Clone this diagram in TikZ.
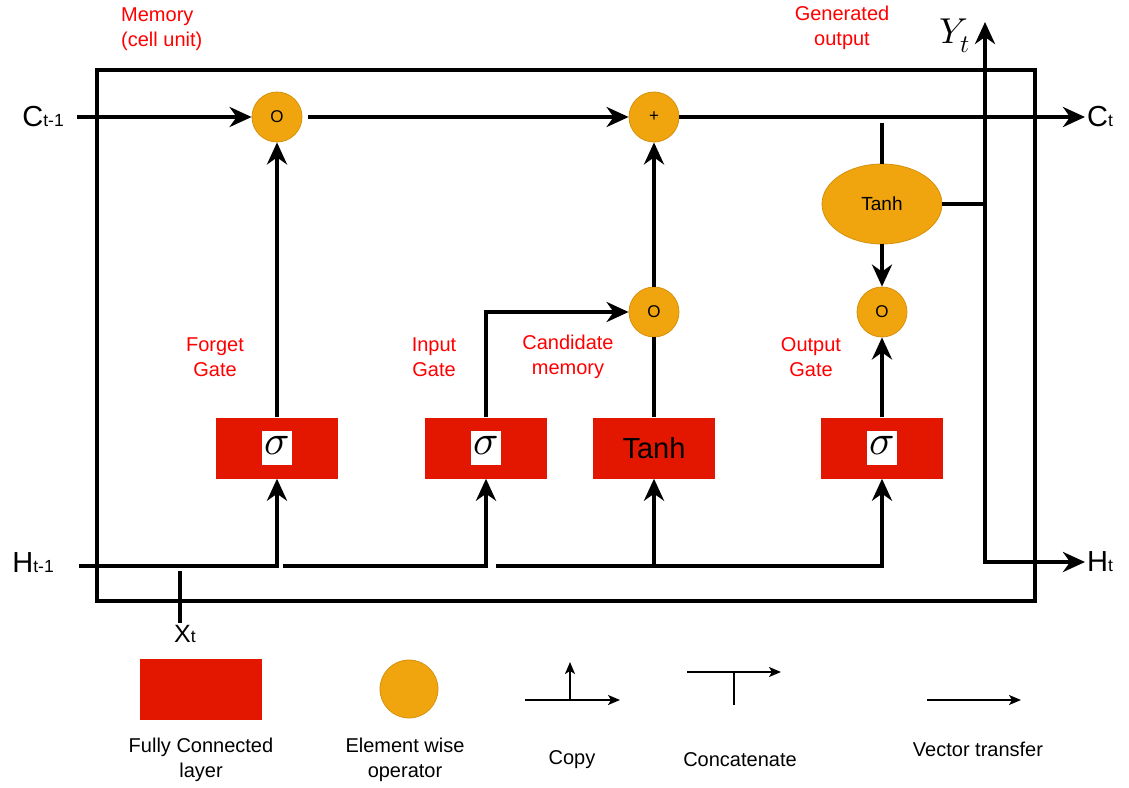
\documentclass[tikz,border=0pt]{standalone}
\usepackage{fontspec}
\usepackage{unicode-math}
\setmainfont{Liberation Sans}
\setmathfont{Latin Modern Math}
\usepackage{tikz}
\usetikzlibrary{arrows.meta,shapes.geometric}

\definecolor{fcred}{RGB}{227,22,0}
\definecolor{oporange}{RGB}{240,165,15}
\definecolor{opedge}{RGB}{214,145,12}
\definecolor{notered}{RGB}{255,0,0}

\newcommand{\lowsub}[1]{{\fontsize{17.5}{17.5}\selectfont #1}}
\newcommand{\sigmabox}{\setlength{\fboxsep}{2pt}\colorbox{white}{\makebox[26pt]{\rule[-9pt]{0pt}{30pt}$\sigma$}}}

\begin{document}
\begin{tikzpicture}[x=1pt,y=-1pt,
  fcbox/.style={rectangle, fill=fcred, minimum width=122pt, minimum height=61pt, inner sep=0pt, font=\fontsize{42}{42}\selectfont},
  opcirc/.style={circle, fill=oporange, draw=opedge, line width=0.8pt, minimum size=50pt, inner sep=0pt, font=\fontsize{17}{17}\selectfont},
  opoval/.style={ellipse, fill=oporange, draw=opedge, line width=0.8pt, minimum width=120pt, minimum height=80pt, inner sep=0pt, font=\fontsize{19}{19}\selectfont},
  wire/.style={line width=4pt},
  arr/.style={wire, -{Stealth[length=22pt, width=20pt, inset=7pt]}},
  thinwire/.style={line width=1.6pt},
  thinarr/.style={thinwire, -{Stealth[length=12pt, width=10pt, inset=3pt]}},
  iolabel/.style={inner sep=2pt, font=\fontsize{29}{29}\selectfont},
  note/.style={text=notered, align=center, inner sep=0pt, font=\fontsize{20}{25}\selectfont},
  keytext/.style={align=center, inner sep=0pt, font=\fontsize{20}{25}\selectfont}]

\useasboundingbox (0,0) rectangle (1129,787);

% cell
\draw[wire] (97,70) rectangle (1035,601);

\node[opcirc] (fmul) at (277,117) {O};
\node[opcirc] (add) at (654,117) {+};
\node[opcirc] (imul) at (654,312) {O};
\node[opcirc] (omul) at (882,312) {O};
\node[opoval] (tanhc) at (882,204) {Tanh};

\node[fcbox] (fsig) at (277,448) {\sigmabox};
\node[fcbox] (isig) at (486,448) {\sigmabox};
\node[fcbox, font=\fontsize{29}{29}\selectfont] (tanhfc) at (654,448) {Tanh};
\node[fcbox] (osig) at (882,448) {\sigmabox};

\node[iolabel, anchor=east] (cin) at (66,117) {C\lowsub{t-1}};
\node[iolabel, anchor=west] (cout) at (1085,117) {C\lowsub{t}};
\node[iolabel, anchor=east] (hin) at (56,563) {H\lowsub{t-1}};
\node[iolabel, anchor=west] (hout) at (1085,562) {H\lowsub{t}};
\node[iolabel, font=\fontsize{25}{25}\selectfont] (xin) at (185,634) {X\lowsub{t}};
\node[font=\fontsize{36}{36}\selectfont, inner sep=0pt] (yout) at (955,36) {$Y_t$};

\coordinate (ctap) at (882,123);
\coordinate (ytip) at (985,22);
\coordinate (yturn) at (985,204);
\coordinate (hturn) at (985,562);
\coordinate (hstart) at (79,566);
\coordinate (hcut1) at (283,566);
\coordinate (hcut2) at (496,566);
\coordinate (xtick) at (180,571);

% memory line
\draw[arr, shorten <=11pt] (cin.east) -- (fmul.west);
\draw[arr, shorten <=6pt] (fmul.east) -- (add.west);
\draw[arr] (add.east) -- (cout.west);

% gates
\draw[arr] (fsig.north) -- (fmul.south);
\draw[arr] (isig.north) |- (imul.west);
\draw[wire] (tanhfc.north) -- (imul.south);
\draw[arr] (imul.north) -- (add.south);
\draw[arr] (osig.north) -- (omul.south);
\draw[wire] (ctap) -- (tanhc.north);
\draw[arr] (tanhc.south) -- (omul.north);

% hidden state
\draw[arr] (hstart) -| (fsig.south);
\draw[arr] (hcut1) -| (isig.south);
\draw[arr] (hcut2) -| (osig.south);
\draw[arr] (tanhfc.south |- hcut2) -- (tanhfc.south);
\draw[wire] (xtick) -- (xtick |- xin.north);

% output
\draw[wire] (tanhc.east) -- (yturn);
\draw[wire, {Stealth[length=22pt, width=20pt, inset=7pt]}-{Stealth[length=22pt, width=20pt, inset=7pt]}] (ytip) -- (hturn) -- (hout.west);

\node[note, anchor=north west, align=left] (memnote) at (121,8) {Memory\\(cell unit)};
\node[note] (outnote) at (842,28) {Generated\\output};
\node[note] (fnote) at (215,357) {Forget\\Gate};
\node[note] (inote) at (434,357) {Input\\Gate};
\node[note] (cnote) at (568,357) {Candidate\\memory};
\node[note] (onote) at (811,357) {Output\\Gate};

% key
\node[fcbox] (keyfc) at (201,689) {};
\node[keytext] (keyfctext) at (201,760) {Fully Connected\\layer};
\node[opcirc, minimum size=58pt] (keyop) at (409,689) {};
\node[keytext] (keyoptext) at (405,760) {Element wise\\operator};

\coordinate (cpa) at (525,700);
\coordinate (cpb) at (620,700);
\coordinate (cpm) at (570,700);
\coordinate (cpt) at (570,662);
\draw[thinarr] (cpa) -- (cpb);
\draw[thinarr] (cpm) -- (cpt);
\node[keytext] (cptext) at (572,760) {Copy};

\coordinate (cca) at (687,672);
\coordinate (ccb) at (781,672);
\coordinate (ccm) at (734,672);
\coordinate (ccd) at (734,705);
\draw[thinarr] (cca) -- (ccb);
\draw[thinwire] (ccm) -- (ccd);
\node[keytext] (cctext) at (740,760) {Concatenate};

\coordinate (vta) at (927,700);
\coordinate (vtb) at (1021,700);
\draw[thinarr] (vta) -- (vtb);
\node[keytext] (vttext) at (978,749) {Vector transfer};
\end{tikzpicture}
\end{document}
